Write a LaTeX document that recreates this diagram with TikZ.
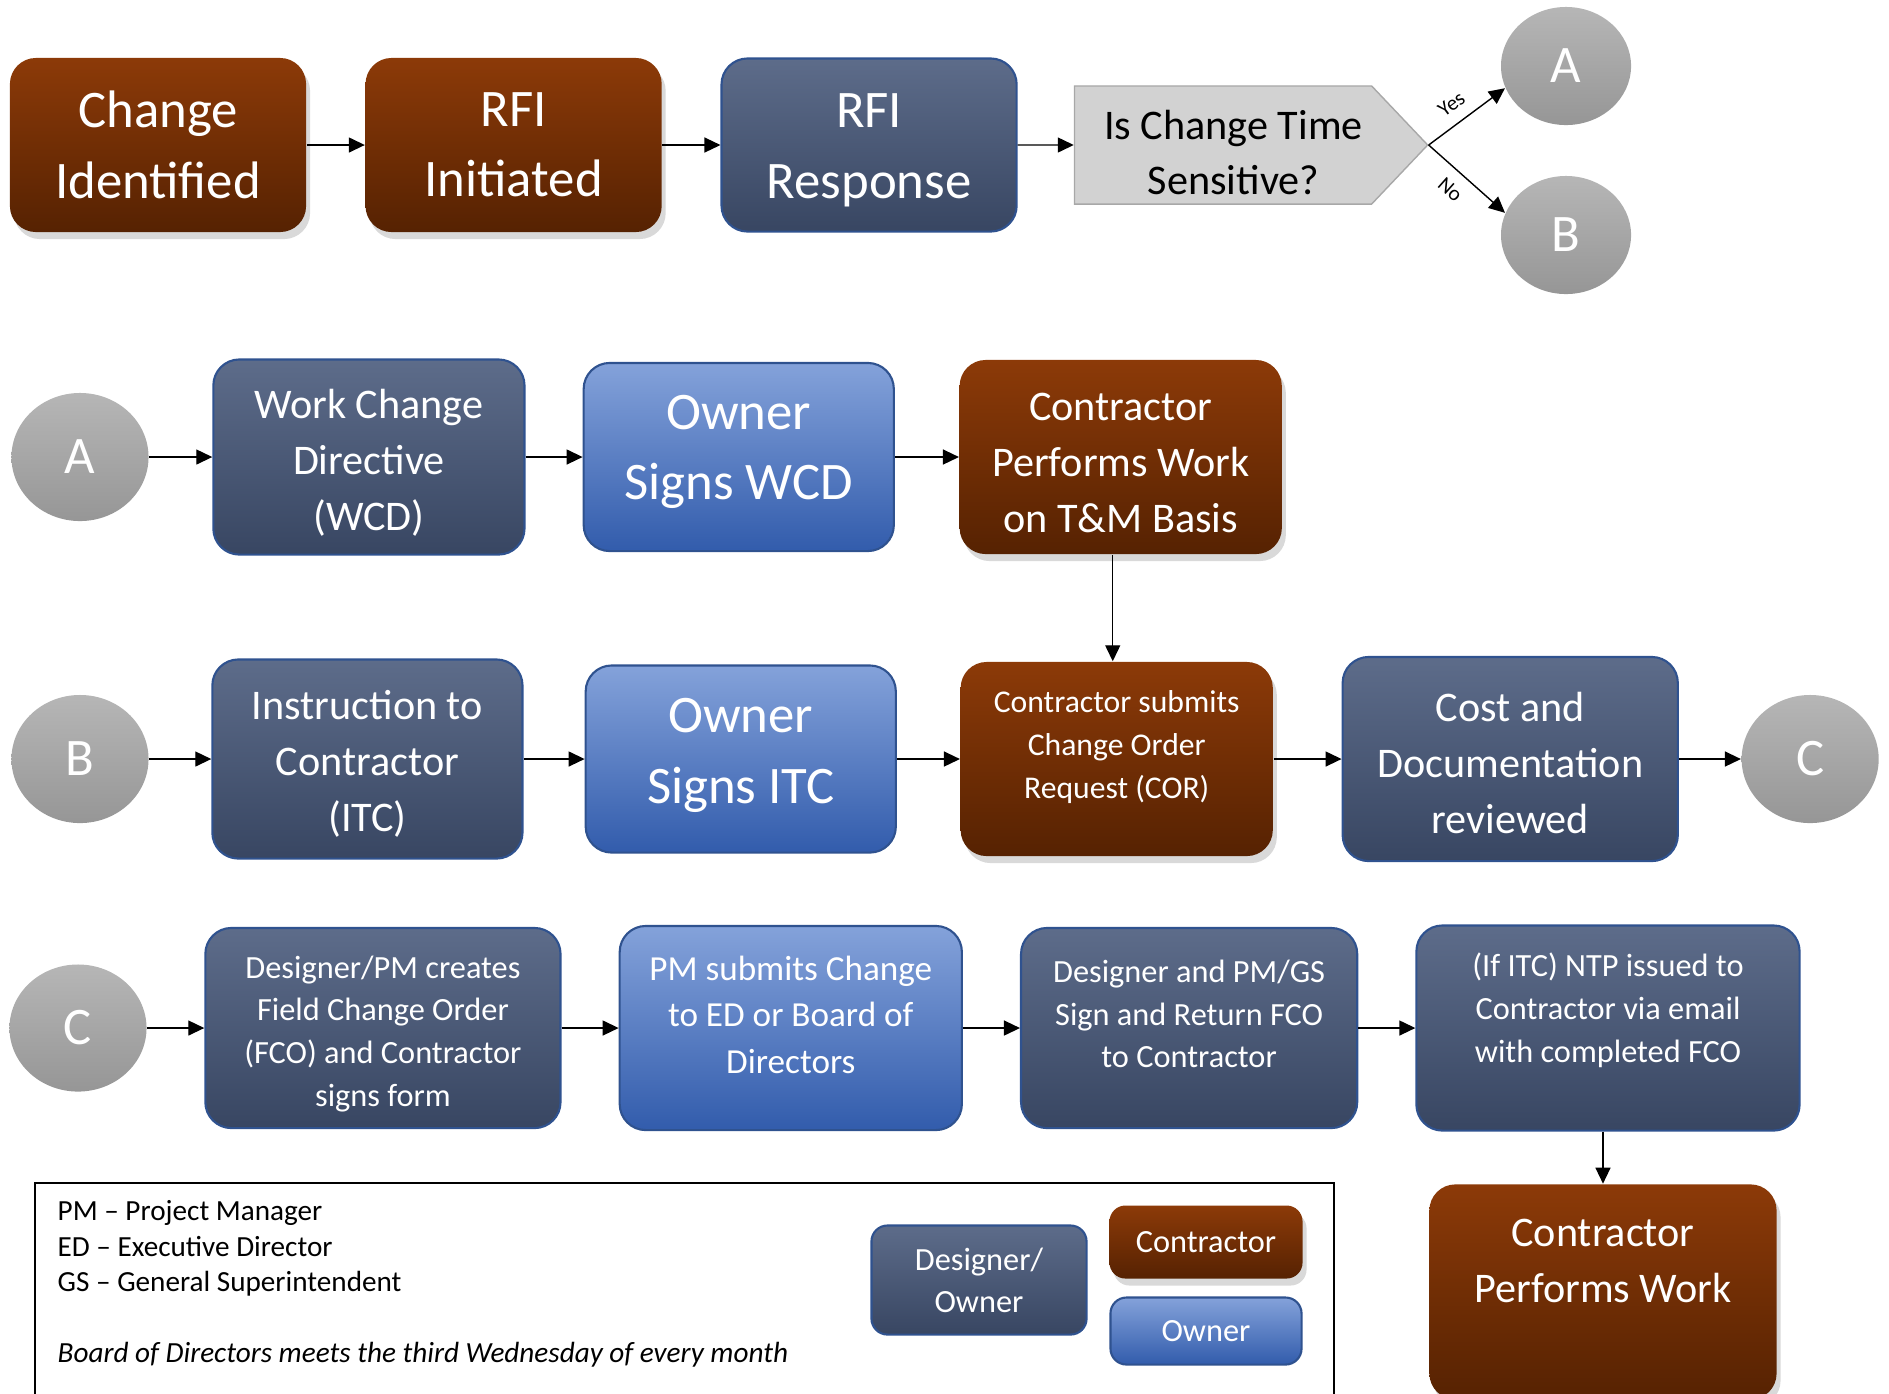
\documentclass[tikz,border=0pt]{standalone}
\usepackage{fontspec}
\setmainfont{Carlito}
\usepackage{tikz}
\usetikzlibrary{shapes.geometric, shapes.symbols, arrows.meta, positioning, shadows}

\definecolor{conTop}{RGB}{140,58,8}
\definecolor{conBot}{RGB}{86,34,2}
\definecolor{desTop}{RGB}{93,108,138}
\definecolor{desBot}{RGB}{56,70,98}
\definecolor{desLine}{RGB}{47,82,143}
\definecolor{ownTop}{RGB}{132,162,218}
\definecolor{ownBot}{RGB}{50,92,172}
\definecolor{refTop}{RGB}{182,182,182}
\definecolor{refBot}{RGB}{150,150,150}
\definecolor{decFill}{RGB}{210,210,210}
\definecolor{decLine}{RGB}{168,168,168}

\begin{document}
\begin{tikzpicture}[x=0.01cm, y=-0.01cm, node distance=0.6cm, auto,
    box/.style={rectangle, rounded corners=0.26cm, align=center, text=white, inner sep=2pt},
    contractor/.style={box, top color=conTop, bottom color=conBot,
        drop shadow={shadow xshift=0.4mm, shadow yshift=-0.7mm, opacity=0.3}},
    designer/.style={box, draw=desLine, line width=0.6pt, top color=desTop, bottom color=desBot},
    owner/.style={box, draw=desLine, line width=0.6pt, top color=ownTop, bottom color=ownBot},
    offpage/.style={ellipse, top color=refTop, bottom color=refBot, text=white,
        font=\fontsize{15}{18}\selectfont, minimum width=1.37cm, minimum height=1.28cm, inner sep=0pt},
    decision/.style={signal, signal to=east, signal pointer angle=93, fill=decFill, draw=decLine,
        minimum width=3.53cm, minimum height=1.18cm, align=center, inner xsep=1pt,
        font=\fontsize{12}{15.8}\selectfont},
    flow/.style={-{Triangle[length=1.6mm, width=1.5mm]}, line width=0.4pt},
    big/.style={font=\fontsize{15}{20}\selectfont},
    mid/.style={font=\fontsize{12}{16}\selectfont},
    small/.style={font=\fontsize{9.2}{12.2}\selectfont},
    legtext/.style={font=\fontsize{9.2}{12}\selectfont, rounded corners=0.16cm}]

    \useasboundingbox (0,0) rectangle (1889,1393);

    % RFI row
    \node[contractor, big, minimum width=2.96cm, minimum height=1.74cm] (ci) at (158,145) {Change\\Identified};
    \node[contractor, big, minimum width=2.96cm, minimum height=1.74cm, right=0.58cm of ci] (rfi) {RFI\\Initiated};
    \node[designer, big, minimum width=2.95cm, minimum height=1.73cm, right=0.58cm of rfi] (resp) {RFI\\Response\\[-20.6pt]~};
    \node[decision, right=0.56cm of resp] (tsens) {\hspace*{6pt}Is Change Time\\\hspace*{6pt}Sensitive?\\[-19.9pt]~};
    \node[offpage, minimum width=1.30cm, minimum height=1.18cm] (topA) at (1566,66) {A};
    \node[offpage, minimum width=1.30cm, minimum height=1.18cm] (topB) at (1566,235) {B};

    \draw[flow] (ci) -- (rfi);
    \draw[flow] (rfi) -- (resp);
    \draw[flow] (resp) -- (tsens);
    \draw[flow] (tsens.east) -- node[above, sloped, pos=0.45, font=\fontsize{6}{7}\selectfont] {Yes} (topA.200);
    \draw[flow] (tsens.east) -- node[below, sloped, pos=0.45, font=\fontsize{6}{7}\selectfont] {No} (topB.160);

    % Time sensitive (WCD)
    \node[offpage] (a2) at (80,457) {A};
    \node[designer, mid, minimum width=3.11cm, minimum height=1.95cm, right=0.63cm of a2] (wcd) {Work Change\\Directive\\(WCD)\\[-17.7pt]~};
    \node[owner, big, minimum width=3.10cm, minimum height=1.88cm, right=0.57cm of wcd] (ows) {Owner\\Signs WCD\\[-14.6pt]~};
    \node[contractor, mid, minimum width=3.22cm, minimum height=1.94cm, right=0.64cm of ows] (tm) {Contractor\\Performs Work\\on T\&M Basis\\[-19.4pt]~};

    \draw[flow] (a2) -- (wcd);
    \draw[flow] (wcd) -- (ows);
    \draw[flow] (ows) -- (tm);

    % Not time sensitive (ITC)
    \node[offpage] (b3) at (80,759) {B};
    \node[designer, mid, minimum width=3.10cm, minimum height=1.99cm, right=0.62cm of b3] (itc) {Instruction to\\Contractor\\(ITC)\\[-17pt]~};
    \node[owner, big, minimum width=3.10cm, minimum height=1.87cm, right=0.61cm of itc] (osi) {Owner\\Signs ITC\\[-15.3pt]~};
    \node[contractor, font=\fontsize{9}{12.2}\selectfont, minimum width=3.12cm, minimum height=1.94cm, right=0.63cm of osi] (cor) {Contractor submits\\Change Order\\Request (COR)\\[-4pt]~};
    \node[designer, mid, minimum width=3.35cm, minimum height=2.04cm, right=0.68cm of cor] (cost) {Cost and\\Documentation\\reviewed\\[-18.1pt]~};
    \node[offpage, right=0.62cm of cost] (c3) {C};

    \draw[flow] (b3) -- (itc);
    \draw[flow] (itc) -- (osi);
    \draw[flow] (osi) -- (cor);
    \draw[flow] (cor) -- (cost);
    \draw[flow] (cost) -- (c3);
    \draw[flow] ([xshift=-0.04cm]cor.north |- tm.south) -- ([xshift=-0.04cm]cor.north);

    % Field change order
    \node[offpage, minimum height=1.27cm] (c4) at (78,1028) {C};
    \node[designer, small, minimum width=3.55cm, minimum height=2.00cm, right=0.57cm of c4] (fco) {Designer/PM creates\\Field Change Order\\(FCO) and Contractor\\signs form\\[-14pt]~};
    \node[owner, font=\fontsize{10}{13.2}\selectfont, minimum width=3.42cm, minimum height=2.04cm, right=0.57cm of fco] (pmsub) {PM submits Change\\to ED or Board of\\Directors\\[-5.5pt]~};
    \node[designer, small, minimum width=3.36cm, minimum height=2.00cm, right=0.57cm of pmsub] (fcosign) {Designer and PM/GS\\Sign and Return FCO\\to Contractor\\[-4.1pt]~};
    \node[designer, small, minimum width=3.83cm, minimum height=2.05cm, right=0.57cm of fcosign] (ntp) {(If ITC) NTP issued to\\Contractor via email\\with completed FCO\\[-0.7pt]~};
    \node[contractor, mid, minimum width=3.47cm, minimum height=2.15cm, below=0.52cm of ntp, xshift=-0.05cm] (work) {Contractor\\Performs Work\\[1.7pt]~};

    \draw[flow] (c4) -- (fco);
    \draw[flow] (fco) -- (pmsub);
    \draw[flow] (pmsub) -- (fcosign);
    \draw[flow] (fcosign) -- (ntp);
    \draw[flow] (work.north |- ntp.south) -- (work.north);

    % Legend
    \node[draw, line width=0.7pt, minimum width=12.98cm, minimum height=2.4cm, anchor=north west, inner sep=0pt] (legend) at (34,1182) {};
    \node[anchor=north west, align=left, inner sep=0pt, font=\fontsize{8.3}{10.1}\selectfont] (abbr) at (57,1200) {PM -- Project Manager\\ED -- Executive Director\\GS -- General Superintendent};
    \node[anchor=west, inner sep=0pt, font=\fontsize{8.3}{10}\selectfont\itshape] (board) at (57,1355) {Board of Directors meets the third Wednesday of every month};
    \node[designer, legtext, minimum width=2.15cm, minimum height=1.09cm] (legdes) at (979,1280) {Designer/\\Owner};
    \node[contractor, legtext, minimum width=1.93cm, minimum height=0.73cm] (legcon) at (1206,1242) {Contractor};
    \node[owner, legtext, minimum width=1.91cm, minimum height=0.67cm] (legown) at (1206,1331) {Owner};
\end{tikzpicture}
\end{document}
